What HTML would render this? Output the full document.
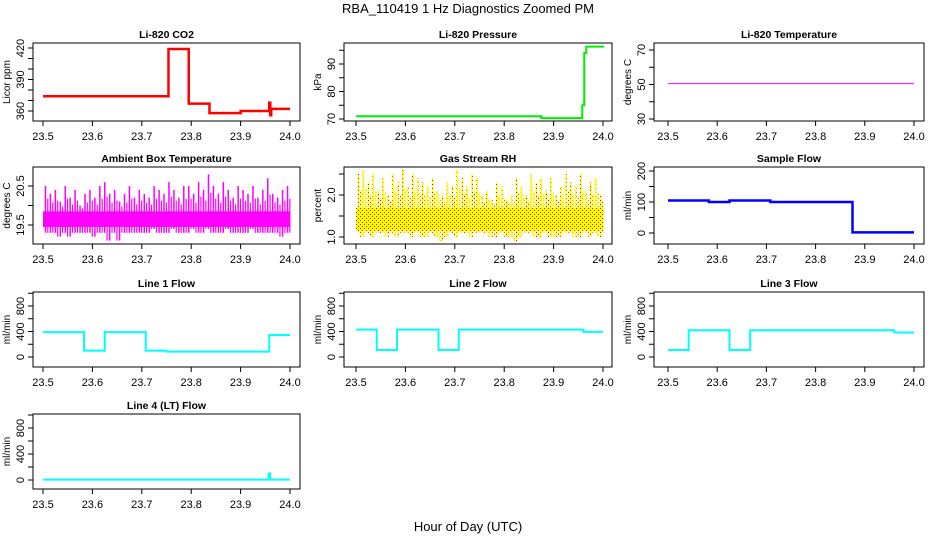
<!DOCTYPE html>
<html><head><meta charset="utf-8"><style>
body{margin:0;background:#fff}
svg text{font-family:"Liberation Sans",Arial,sans-serif;fill:#000}
</style></head><body>
<svg id="c" width="936" height="540" xmlns="http://www.w3.org/2000/svg">
<defs>
<pattern id="rhpat" width="4" height="4" patternUnits="userSpaceOnUse">
<rect width="4" height="4" fill="#ffff00"/><rect x="0" y="0" width="1" height="1" fill="#ff0000"/><rect x="2" y="2" width="1" height="1" fill="#ff0000"/>
</pattern>
</defs>
<text x="468" y="13" text-anchor="middle" font-size="13">RBA_110419  1 Hz Diagnostics Zoomed PM</text>
<text x="468" y="531" text-anchor="middle" font-size="13">Hour of Day (UTC)</text>
</svg>
<script>
// ---- data ----
const xTicks = [23.5, 23.6, 23.7, 23.8, 23.9, 24.0];
const xTickLabels = ["23.5", "23.6", "23.7", "23.8", "23.9", "24.0"];
const co2Times = [23.5, 23.754, 23.795, 23.837, 23.9, 23.958, 23.96, 23.962, 24.0];
const co2Values = [374, 419, 367, 358, 360, 368, 356, 362, 362];
const pressTimes = [23.5, 23.875, 23.958, 23.962, 23.966, 24.0];
const pressValues = [71, 70.3, 75, 94, 96.3, 96];
const tempTimes = [23.5, 24.0];
const tempValues = [50.5, 50.5];
const sampleTimes = [23.5, 23.583, 23.625, 23.708, 23.875, 24.0];
const sampleValues = [105, 100, 105, 100, 2, 2];
const line1Times = [23.5, 23.583, 23.625, 23.708, 23.75, 23.958, 24.0];
const line1Values = [390, 100, 390, 100, 85, 345, 345];
const line2Times = [23.5, 23.542, 23.583, 23.667, 23.708, 23.96, 24.0];
const line2Values = [430, 110, 430, 110, 430, 395, 395];
const line3Times = [23.5, 23.542, 23.625, 23.667, 23.96, 24.0];
const line3Values = [110, 420, 110, 420, 385, 385];
const line4Times = [23.5, 23.957, 23.96, 24.0];
const line4Values = [5, 100, 5, 5];
const ambHigh = [20.5,20.3,20.4,20.1,20.5,20.2,20.4,20.0,20.3,20.4,20.2,20.5,20.6,20.3,20.4,20.1,20.3,20.5,20.2,20.4,20.3,20.2,20.5,20.4,20.3,20.6,20.4,20.2,20.5,20.5,20.3,20.6,20.4,20.8,20.5,20.3,20.6,20.4,20.2,20.5,20.4,20.3,20.5,20.2,20.4,20.7,20.3,20.2,20.4,20.5];
const ambLow = [19.3,19.3,19.3,19.2,19.3,19.2,19.3,19.3,19.3,19.3,19.2,19.3,19.3,19.1,19.3,19.1,19.3,19.3,19.3,19.3,19.3,19.3,19.4,19.3,19.3,19.3,19.4,19.3,19.3,19.3,19.4,19.3,19.3,19.4,19.3,19.3,19.3,19.4,19.3,19.3,19.3,19.3,19.4,19.3,19.3,19.3,19.3,19.3,19.2,19.3];
const rhHigh = [2.5,2.6,2.3,2.5,2.1,2.4,2.0,2.5,2.3,2.6,2.2,2.5,2.4,2.3,2.2,2.4,2.1,2.0,2.3,2.2,2.6,2.4,2.2,2.5,2.4,2.0,2.1,1.9,2.3,2.2,1.9,2.0,2.4,2.2,2.0,2.5,2.3,2.4,2.1,2.4,2.0,2.2,2.5,2.3,2.2,2.5,2.1,2.3,2.4,2.0];
const rhLow = [1.1,1.0,1.1,1.0,1.1,1.1,1.0,1.1,1.0,1.1,1.1,1.0,1.1,1.0,1.0,1.1,1.0,0.9,1.0,1.1,1.0,1.1,1.1,1.0,1.1,1.1,1.1,1.0,1.0,1.1,1.0,1.0,0.9,1.0,1.1,1.1,1.0,1.0,1.1,1.0,1.0,1.0,1.1,1.1,1.0,1.0,1.1,1.0,1.1,1.0];

const NS = "http://www.w3.org/2000/svg";
const svg = document.getElementById('c');
const boxL = [33, 344, 654], boxR = [300, 612, 924];
const dx0 = [43, 356, 668], dx1 = [290, 603, 914];
const boxT = [43, 167, 292, 414], boxB = [121, 244, 367, 489];
function mk(tag, attrs, parent) { const e = document.createElementNS(NS, tag); for (const k in attrs) e.setAttribute(k, attrs[k]); (parent || svg).appendChild(e); return e; }

function panel(p) {
  const g = mk('g', {});
  
  
  const L = boxL[p.col], R = boxR[p.col], T = boxT[p.row], B = boxB[p.row];
  const xs = v => dx0[p.col] + (v - 23.5) / 0.5 * (dx1[p.col] - dx0[p.col]);
  const ys = v => p.py0 + (v - p.v0) / (p.v1 - p.v0) * (p.py1 - p.py0);
  const box = mk('rect', { x: L, y: T, width: R - L, height: B - T, fill: 'none', stroke: '#000', 'stroke-width': 1 }, g);
  
  
  const t = mk('text', { x: (L + R) / 2, y: T - 5, 'text-anchor': 'middle', 'font-size': 10.5, 'font-weight': 'bold' }, g);
  t.textContent = p.title;
  
  
  mk('line', { x1: xs(xTicks[0]), x2: xs(xTicks[xTicks.length - 1]), y1: B, y2: B, stroke: '#000' }, g);
  xTicks.forEach((v, i) => {
    mk('line', { x1: xs(v), x2: xs(v), y1: B, y2: B + 5, stroke: '#000' }, g);
    const tl = mk('text', { x: xs(v), y: B + 19, 'text-anchor': 'middle', 'font-size': 11 }, g);
    tl.textContent = xTickLabels[i];
    
    
  });
  mk('line', { x1: L, x2: L, y1: ys(p.yticks[0]), y2: ys(p.yticks[p.yticks.length - 1]), stroke: '#000' }, g);
  p.yticks.forEach(v => mk('line', { x1: L - 5, x2: L, y1: ys(v), y2: ys(v), stroke: '#000' }, g));
  p.ylabels.forEach(v => {
    const tx = L - 9, ty = ys(v);
    const tl = mk('text', { x: tx, y: ty, 'text-anchor': 'middle', 'font-size': 11, transform: `rotate(-90 ${tx} ${ty})` }, g);
    tl.textContent = p.fmt ? v.toFixed(1) : String(v);
    
    
  });
  const ax = L - 23, ay = (T + B) / 2;
  const yt = mk('text', { x: ax, y: ay, 'text-anchor': 'middle', 'font-size': 10, transform: `rotate(-90 ${ax} ${ay})` }, g);
  yt.textContent = p.ylab;
  
  
  if (p.times) {
    let d = '';
    for (let i = 0; i < p.times.length; i++) {
      const x = xs(p.times[i]), y = ys(p.values[i]);
      if (i === 0) d += `M${x},${y}`;
      else d += `H${x}V${y}`;
    }
    const path = mk('path', { d: d, fill: 'none', stroke: p.color, 'stroke-width': p.sw || 2.5 }, g);
    
    
  }
  if (p.hi) {
    const n = p.hi.length, w = (dx1[p.col] - dx0[p.col]) / n;
    const band = mk('rect', { x: xs(23.5), y: ys(p.bandHi), width: dx1[p.col] - dx0[p.col], height: ys(p.bandLo) - ys(p.bandHi), fill: p.color }, g);
    
    
    for (let i = 0; i < n; i++) {
      const x = xs(23.5 + (i + 0.5) * 0.5 / n);
      const s = mk('rect', { x: x - 0.75, y: ys(p.hi[i]), width: 1.5, height: ys(p.lo[i]) - ys(p.hi[i]), fill: p.color }, g);
      
      
      const s2 = mk('rect', { x: x - 0.75 + w / 2, y: ys((p.hi[i] + p.bandHi) / 2), width: 1.2, height: ys(p.lo[(i + 1) % n]) - ys((p.hi[i] + p.bandHi) / 2), fill: p.color }, g);
      
      
    }
  }
}

panel({ name: 'co2', col: 0, row: 0, title: 'Li-820 CO2', ylab: 'Licor ppm', v0: 360, py0: 111, v1: 420, py1: 48, yticks: [360,370,380,390,400,410,420], ylabels: [360,390,420], times: co2Times, values: co2Values, color: '#ff0000' });
panel({ name: 'pressure', col: 1, row: 0, title: 'Li-820 Pressure', ylab: 'kPa', v0: 70, py0: 119, v1: 90, py1: 64, yticks: [70,75,80,85,90,95], ylabels: [70,80,90], times: pressTimes, values: pressValues, color: '#00ee00', sw: 2 });
panel({ name: 'temperature', col: 2, row: 0, title: 'Li-820 Temperature', ylab: 'degrees C', v0: 30, py0: 119, v1: 70, py1: 50, yticks: [30,40,50,60,70], ylabels: [30,50,70], times: tempTimes, values: tempValues, color: '#ff00ff', sw: 1 });
panel({ name: 'ambient-temp', col: 0, row: 1, title: 'Ambient Box Temperature', ylab: 'degrees C', v0: 19.5, py0: 225, v1: 20.5, py1: 186, yticks: [19.5,20.0,20.5], ylabels: [19.5,20.5], fmt: true, hi: ambHigh, lo: ambLow, bandHi: 19.85, bandLo: 19.45, color: '#ff00ff' });
panel({ name: 'gas-rh', col: 1, row: 1, title: 'Gas Stream RH', ylab: 'percent', v0: 1.0, py0: 237, v1: 2.0, py1: 195, yticks: [1.0,1.5,2.0,2.5], ylabels: [1.0,2.0], fmt: true, hi: rhHigh, lo: rhLow, bandHi: 1.7, bandLo: 1.15, color: 'url(#rhpat)' });
panel({ name: 'sample-flow', col: 2, row: 1, title: 'Sample Flow', ylab: 'ml/min', v0: 0, py0: 233, v1: 200, py1: 171, yticks: [0,50,100,150,200], ylabels: [0,100,200], times: sampleTimes, values: sampleValues, color: '#0000ff' });
panel({ name: 'line1-flow', col: 0, row: 2, title: 'Line 1 Flow', ylab: 'ml/min', v0: 0, py0: 357, v1: 800, py1: 306, yticks: [0,200,400,600,800,1000], ylabels: [0,400,800], times: line1Times, values: line1Values, color: '#00ffff', sw: 2 });
panel({ name: 'line2-flow', col: 1, row: 2, title: 'Line 2 Flow', ylab: 'ml/min', v0: 0, py0: 357, v1: 800, py1: 306, yticks: [0,200,400,600,800,1000], ylabels: [0,400,800], times: line2Times, values: line2Values, color: '#00ffff', sw: 2 });
panel({ name: 'line3-flow', col: 2, row: 2, title: 'Line 3 Flow', ylab: 'ml/min', v0: 0, py0: 357, v1: 800, py1: 306, yticks: [0,200,400,600,800,1000], ylabels: [0,400,800], times: line3Times, values: line3Values, color: '#00ffff', sw: 2 });
panel({ name: 'line4-flow', col: 0, row: 3, title: 'Line 4 (LT) Flow', ylab: 'ml/min', v0: 0, py0: 480, v1: 800, py1: 428, yticks: [0,200,400,600,800,1000], ylabels: [0,400,800], times: line4Times, values: line4Values, color: '#00ffff', sw: 2 });
</script>
</body></html>
